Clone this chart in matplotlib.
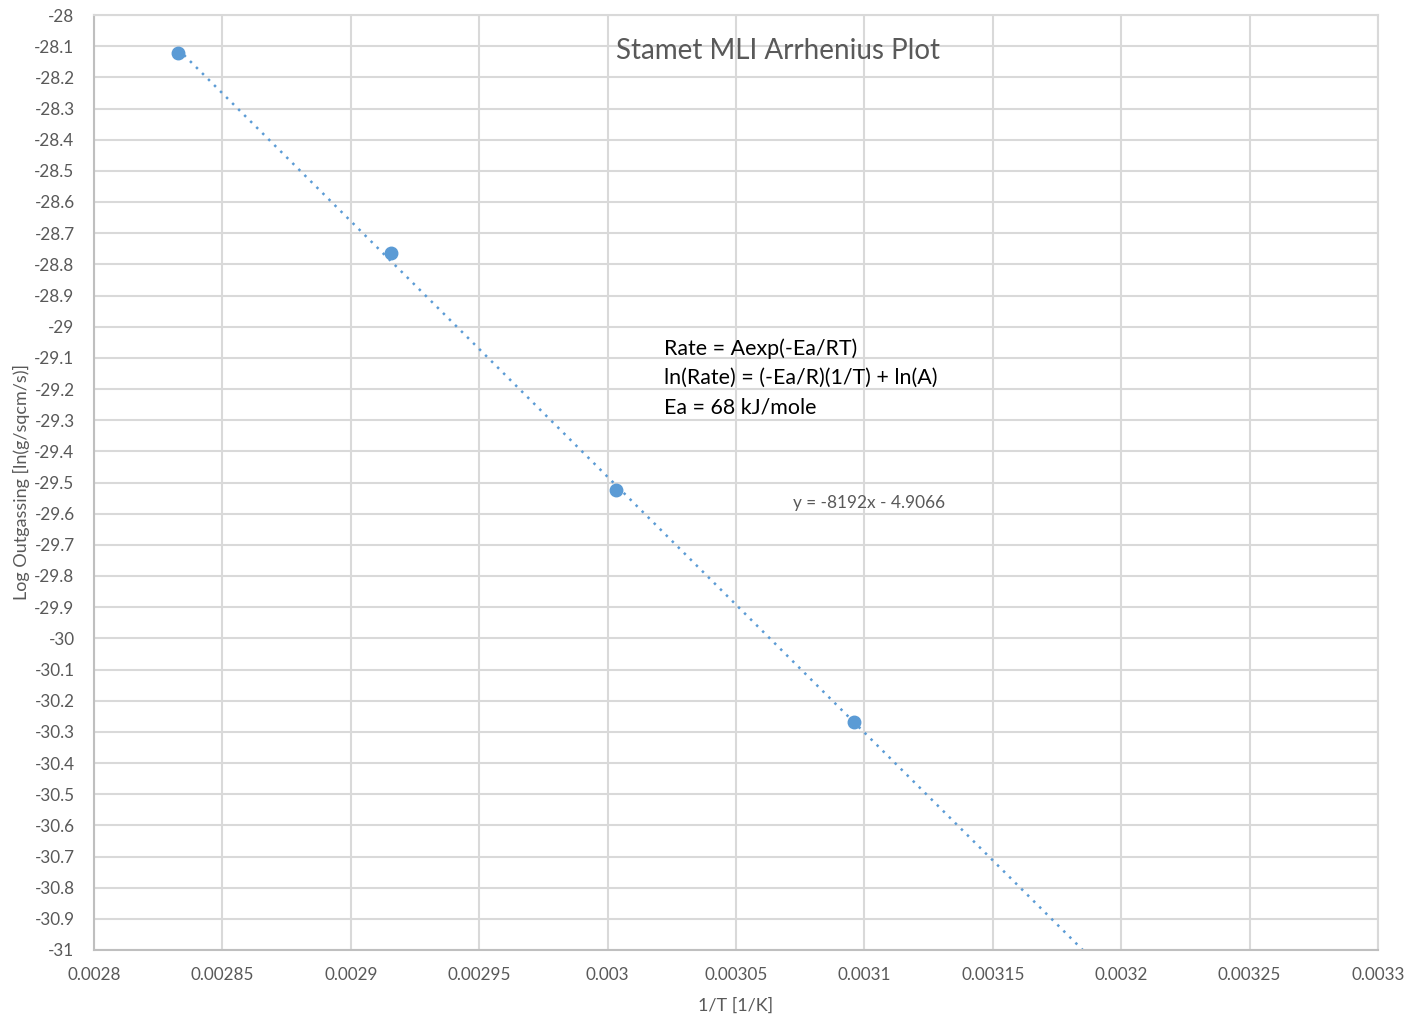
import numpy as np
import matplotlib
matplotlib.use("Agg")
import matplotlib.pyplot as plt
from matplotlib.ticker import MultipleLocator, FuncFormatter

# Datos
inv_T = [0.0028327, 0.0029157, 0.0030033, 0.0030960]
log_rate = [-28.122, -28.764, -29.524, -30.268]
titulo = "Stamet MLI Arrhenius Plot"
notas = ["Rate = Aexp(-Ea/RT)", "ln(Rate) = (-Ea/R)(1/T) + ln(A)", "Ea = 68 kJ/mole"]
ecuacion = "y = -8192x - 4.9066"

plt.rcParams['font.family'] = ['Lato', 'DejaVu Sans']
azul = '#5b9bd5'
gris = '#595959'
rejilla = '#d9d9d9'

fig = plt.figure(figsize=(14.09, 10.16), dpi=100)
ax = fig.add_axes([94/1409, 1-950/1016, (1378-94)/1409, (950-15)/1016])

# Linea de tendencia (ajuste lineal)
m, b = np.polyfit(inv_T, log_rate, 1)
xt = np.array([inv_T[0], 0.0033])
ax.plot(xt, m*xt + b, color=azul, lw=1.8, linestyle=(0, (1, 2.4)), zorder=2)
ax.plot(inv_T, log_rate, 'o', color=azul, markersize=9, zorder=3)

ax.set_xlim(0.0028, 0.0033)
ax.set_ylim(-31, -28)
ax.xaxis.set_major_locator(MultipleLocator(0.00005))
ax.yaxis.set_major_locator(MultipleLocator(0.1))
ax.xaxis.set_major_formatter(FuncFormatter(lambda v, p: '%g' % round(v, 6)))
ax.yaxis.set_major_formatter(FuncFormatter(lambda v, p: '%g' % round(v, 2)))
ax.tick_params(length=0, labelsize=12.3, labelcolor=gris)
ax.tick_params(axis='y', pad=14)
ax.tick_params(axis='x', pad=12)
ax.grid(True, color=rejilla, lw=1.5)
ax.set_axisbelow(True)
for s in ax.spines.values():
    s.set_color(rejilla)
    s.set_linewidth(1.5)
ax.spines['left'].set_color('#bfbfbf')
ax.spines['bottom'].set_color('#bfbfbf')

ax.set_xlabel("1/T [1/K]", fontsize=13, color=gris, labelpad=11)
ax.set_ylabel("Log Outgassing [ln(g/sqcm/s)]", fontsize=13, color=gris, labelpad=3)

ax.text(0.533, 0.962, titulo, transform=ax.transAxes, fontsize=20, color=gris,
        ha='center', va='center')
for i, t in enumerate(notas):
    fig.text(664/1409, 1-(349+i*29)/1016, t, fontsize=15.4, color='black', va='center')
fig.text(793/1409, 1-503/1016, ecuacion, fontsize=12.4, color=gris, va='center')

fig.savefig('out.png', dpi=100)
